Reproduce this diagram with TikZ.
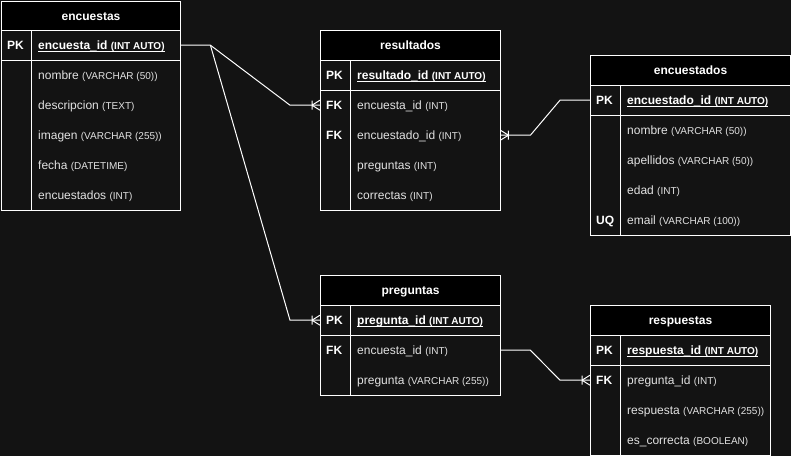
\documentclass[tikz,border=0pt]{standalone}
\usepackage{fontspec}
\setmainfont{Liberation Sans}
\definecolor{bgc}{RGB}{19,19,19}
\definecolor{fldc}{RGB}{226,226,226}
\newcommand\ERtype{\fontsize{10}{12}\selectfont}
\newcommand\ERul[1]{\setbox0\hbox{#1}\rlap{\rule[-1.8pt]{\wd0}{0.8pt}}\box0}
\newcommand\ERrow[6]{%
  \node[rowbox, minimum width=#4pt] (#1) at (#2,#3) {};
  \node[keytxt] at ([xshift=6pt,yshift=-4.3pt]#1.west) {#5};
  \node[fldtxt] at ([xshift=37pt,yshift=-4.3pt]#1.west) {#6};
}
\newcommand\ERpk[1]{\textcolor{white}{\bfseries\ERul{#1}}}
\begin{document}
\begin{tikzpicture}[x=1pt,y=-1pt,
  tline/.style={draw=white, line width=1pt},
  conn/.style={draw=white, line width=1pt},
  frame/.style={draw=white, line width=1pt, fill=bgc, anchor=north west, inner sep=0pt},
  hdr/.style={draw=white, line width=1pt, fill=black, anchor=north west, inner sep=0pt, minimum height=30pt},
  hdrtxt/.style={anchor=base, inner sep=0pt, text=white, font=\bfseries\fontsize{12}{14}\selectfont},
  rowbox/.style={anchor=north west, inner sep=0pt, minimum height=30pt},
  keytxt/.style={anchor=base west, inner sep=0pt, text=white, font=\bfseries\fontsize{12}{14}\selectfont},
  fldtxt/.style={anchor=base west, inner sep=0pt, text=fldc, font=\fontsize{12}{14}\selectfont},
  crowL/.pic={\draw[conn] (-8,0) -- (0,-5) (-8,0) -- (0,5) (-8,-4.5) -- (-8,4.5);},
  crowR/.pic={\draw[conn] (8,0) -- (0,-5) (8,0) -- (0,5) (8,-4.5) -- (8,4.5);}
]
\fill[bgc] (0,0) rectangle (791,456);
\useasboundingbox (0,0) rectangle (791,456);

% ---------- encuestas ----------
\node[frame, minimum width=179pt, minimum height=209pt] (encuestas) at (1,1) {};
\node[hdr, minimum width=179pt, minimum height=29pt] (enc-h) at (1,1) {};
\node[hdrtxt] at ([yshift=-4.3pt]enc-h.center) {encuestas};
\ERrow{enc-pk}{1}{30}{179}{PK}{\ERpk{encuesta\_id \ERtype(INT AUTO)}}
\ERrow{enc-r1}{1}{60}{179}{}{nombre \ERtype(VARCHAR (50))}
\ERrow{enc-r2}{1}{90}{179}{}{descripcion \ERtype(TEXT)}
\ERrow{enc-r3}{1}{120}{179}{}{imagen \ERtype(VARCHAR (255))}
\ERrow{enc-r4}{1}{150}{179}{}{fecha \ERtype(DATETIME)}
\ERrow{enc-r5}{1}{180}{179}{}{encuestados \ERtype(INT)}
\draw[tline] (enc-pk.south west) -- (enc-pk.south east);
\draw[tline] ([xshift=30pt]enc-pk.north west) -- ([xshift=30pt]encuestas.south west);

% ---------- resultados ----------
\node[frame, minimum width=180pt, minimum height=180pt] (resultados) at (320,30) {};
\node[hdr, minimum width=180pt] (res-h) at (320,30) {};
\node[hdrtxt] at ([yshift=-4.3pt]res-h.center) {resultados};
\ERrow{res-pk}{320}{60}{180}{PK}{\ERpk{resultado\_id \ERtype(INT AUTO)}}
\ERrow{res-fk1}{320}{90}{180}{FK}{encuesta\_id \ERtype(INT)}
\ERrow{res-fk2}{320}{120}{180}{FK}{encuestado\_id \ERtype(INT)}
\ERrow{res-r3}{320}{150}{180}{}{preguntas \ERtype(INT)}
\ERrow{res-r4}{320}{180}{180}{}{correctas \ERtype(INT)}
\draw[tline] (res-pk.south west) -- (res-pk.south east);
\draw[tline] ([xshift=30pt]res-pk.north west) -- ([xshift=30pt]resultados.south west);

% ---------- encuestados ----------
\node[frame, minimum width=200pt, minimum height=180pt] (encuestados) at (590,55) {};
\node[hdr, minimum width=200pt] (eds-h) at (590,55) {};
\node[hdrtxt] at ([yshift=-4.3pt]eds-h.center) {encuestados};
\ERrow{eds-pk}{590}{85}{200}{PK}{\ERpk{encuestado\_id \ERtype(INT AUTO)}}
\ERrow{eds-r1}{590}{115}{200}{}{nombre \ERtype(VARCHAR (50))}
\ERrow{eds-r2}{590}{145}{200}{}{apellidos \ERtype(VARCHAR (50))}
\ERrow{eds-r3}{590}{175}{200}{}{edad \ERtype(INT)}
\ERrow{eds-uq}{590}{205}{200}{UQ}{email \ERtype(VARCHAR (100))}
\draw[tline] (eds-pk.south west) -- (eds-pk.south east);
\draw[tline] ([xshift=30pt]eds-pk.north west) -- ([xshift=30pt]encuestados.south west);

% ---------- preguntas ----------
\node[frame, minimum width=180pt, minimum height=120pt] (preguntas) at (320,275) {};
\node[hdr, minimum width=180pt] (pre-h) at (320,275) {};
\node[hdrtxt] at ([yshift=-4.3pt]pre-h.center) {preguntas};
\ERrow{pre-pk}{320}{305}{180}{PK}{\ERpk{pregunta\_id \ERtype(INT AUTO)}}
\ERrow{pre-fk1}{320}{335}{180}{FK}{encuesta\_id \ERtype(INT)}
\ERrow{pre-r2}{320}{365}{180}{}{pregunta \ERtype(VARCHAR (255))}
\draw[tline] (pre-pk.south west) -- (pre-pk.south east);
\draw[tline] ([xshift=30pt]pre-pk.north west) -- ([xshift=30pt]preguntas.south west);

% ---------- respuestas ----------
\node[frame, minimum width=180pt, minimum height=150pt] (respuestas) at (590,305) {};
\node[hdr, minimum width=180pt] (rsp-h) at (590,305) {};
\node[hdrtxt] at ([yshift=-4.3pt]rsp-h.center) {respuestas};
\ERrow{rsp-pk}{590}{335}{180}{PK}{\ERpk{respuesta\_id \ERtype(INT AUTO)}}
\ERrow{rsp-fk1}{590}{365}{180}{FK}{pregunta\_id \ERtype(INT)}
\ERrow{rsp-r2}{590}{395}{180}{}{respuesta \ERtype(VARCHAR (255))}
\ERrow{rsp-r3}{590}{425}{180}{}{es\_correcta \ERtype(BOOLEAN)}
\draw[tline] (rsp-pk.south west) -- (rsp-pk.south east);
\draw[tline] ([xshift=30pt]rsp-pk.north west) -- ([xshift=30pt]respuestas.south west);

% ---------- connectors ----------
\draw[conn] (enc-pk.east) -- ++(30,0) coordinate (j1) -- ([xshift=-30pt]res-fk1.west) -- (res-fk1.west);
\draw[conn] (j1) -- ([xshift=-30pt]pre-pk.west) -- (pre-pk.west);
\draw[conn] (eds-pk.west) -- ++(-30,0) -- ([xshift=30pt]res-fk2.east) -- (res-fk2.east);
\draw[conn] (pre-fk1.east) -- ++(30,0) -- ([xshift=-30pt]rsp-fk1.west) -- (rsp-fk1.west);
\pic at (res-fk1.west) {crowL};
\pic at (pre-pk.west) {crowL};
\pic at (res-fk2.east) {crowR};
\pic at (rsp-fk1.west) {crowL};
\end{tikzpicture}
\end{document}
